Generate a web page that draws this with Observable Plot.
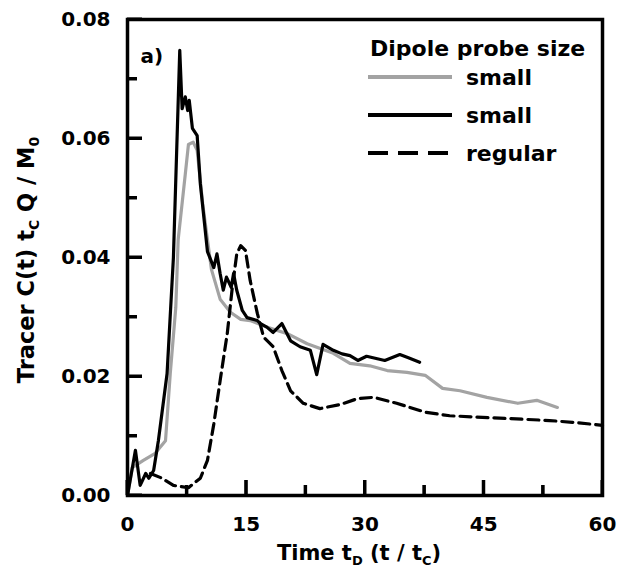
<!DOCTYPE html>
<html><head><meta charset="utf-8">
<script src="https://cdn.jsdelivr.net/npm/d3@7"></script>
<script src="https://cdn.jsdelivr.net/npm/@observablehq/plot@0.6"></script>
<style>
html,body{margin:0;padding:0;background:#fff;}
#chart{width:620px;height:574px;}
</style></head><body><div id="chart"></div>
<script>
// ---- data ----
const graySmallT = [0, 0.6, 2.0, 3.5, 4.8, 5.4, 6.1, 6.4, 7.3, 7.7, 8.3, 8.8, 9.5, 10.1, 10.6, 11.7, 13.0, 14.3, 15.5, 17.6, 20.2, 22.7, 26.0, 28.1, 30.6, 32.8, 35.3, 37.6, 39.8, 42.0, 45.4, 49.3, 51.7, 54.3];
const graySmallV = [0, 0.0047, 0.0059, 0.0071, 0.0092, 0.0205, 0.0316, 0.043, 0.054, 0.059, 0.0594, 0.058, 0.049, 0.043, 0.038, 0.033, 0.0308, 0.0296, 0.0294, 0.0283, 0.0272, 0.0255, 0.0239, 0.0222, 0.0218, 0.021, 0.0207, 0.0202, 0.018, 0.0176, 0.0165, 0.0155, 0.016, 0.0148];

const blackSmallT = [0, 1.0, 1.6, 2.3, 2.7, 3.3, 3.9, 5.0, 5.8, 6.6, 6.9, 7.3, 7.6, 7.8, 8.2, 8.8, 9.2, 10.1, 10.9, 11.3, 11.7, 12.1, 12.5, 13.1, 13.4, 13.8, 14.5, 15.1, 16.4, 16.8, 17.6, 18.4, 19.5, 20.6, 21.8, 23.1, 23.9, 24.7, 26.0, 27.1, 28.1, 29.1, 30.2, 32.5, 34.4, 35.4, 36.9];
const blackSmallV = [0, 0.0076, 0.0017, 0.0037, 0.0029, 0.0042, 0.0092, 0.0205, 0.040, 0.0748, 0.065, 0.067, 0.0647, 0.0664, 0.0617, 0.0605, 0.0524, 0.041, 0.0383, 0.0406, 0.0373, 0.0345, 0.0367, 0.035, 0.0373, 0.0345, 0.0311, 0.0299, 0.0294, 0.0289, 0.0283, 0.0274, 0.0289, 0.026, 0.025, 0.0244, 0.0203, 0.0254, 0.0244, 0.0238, 0.0235, 0.0227, 0.0234, 0.0227, 0.0237, 0.0232, 0.0224];

const regularT = [2.9, 4.2, 5.8, 7.7, 9.2, 10.1, 10.9, 11.7, 12.6, 13.2, 13.8, 14.3, 14.9, 15.5, 16.4, 17.2, 18.4, 19.5, 20.6, 22.2, 24.3, 26.9, 29.1, 31.1, 34.0, 37.6, 40.7, 47.0, 53.3, 56.2, 60];
const regularV = [0.0037, 0.003, 0.0017, 0.0013, 0.0029, 0.0059, 0.012, 0.0193, 0.0272, 0.0345, 0.0406, 0.042, 0.0412, 0.0361, 0.0306, 0.0266, 0.025, 0.021, 0.0176, 0.0155, 0.0146, 0.0153, 0.0163, 0.0165, 0.0155, 0.014, 0.0134, 0.013, 0.0126, 0.0123, 0.0118];

const xMajor = [0, 15, 30, 45, 60];
const xMinor = [7.5, 22.5, 37.5, 52.5];
const yMajor = [0, 0.02, 0.04, 0.06, 0.08];
const yMinor = [0.01, 0.03, 0.05, 0.07];

const seriesNames = ["small", "small", "regular"];
const legendTitle = "Dipole probe size";
const panelLabel = "a)";

// ---- layout ----
const W = 620, H = 574, mL = 127, mR = 18, mT = 19, mB = 79;
const FONT = "'DejaVu Sans', sans-serif";
const GRAY = "#a3a3a3";

const rows = (t, v) => t.map((x, i) => ({t: x, v: v[i]}));

const chart = Plot.plot({
  width: W, height: H,
  marginLeft: mL, marginRight: mR, marginTop: mT, marginBottom: mB,
  style: {fontFamily: FONT, fontWeight: "bold", fontSize: "20px", background: "#fff", color: "#000"},
  x: {domain: [0, 60]},
  y: {domain: [0, 0.08]},
  marks: [
    Plot.ruleY(yMinor, {y: d => d, x1: xMajor[0], x2: xMajor[0], insetRight: -10, strokeWidth: 3}),
    Plot.ruleY(yMajor, {y: d => d, x1: xMajor[0], x2: xMajor[0], insetRight: -15, strokeWidth: 3}),
    Plot.ruleX(xMinor, {x: d => d, y1: yMajor[0], y2: yMajor[0], insetTop: -10, strokeWidth: 3}),
    Plot.ruleX(xMajor, {x: d => d, y1: yMajor[0], y2: yMajor[0], insetTop: -15, strokeWidth: 3}),
    Plot.axisY(yMajor, {tickSize: 0, tickPadding: 17, tickFormat: d => d.toFixed(2), label: null, fontSize: 20}),
    Plot.axisX(xMajor, {tickSize: 0, tickPadding: 21, label: null, fontSize: 20}),
    Plot.line(rows(graySmallT, graySmallV), {x: "t", y: "v", stroke: GRAY, strokeWidth: 3.2}),
    Plot.line(rows(regularT, regularV), {x: "t", y: "v", stroke: "#000", strokeWidth: 3.2, strokeDasharray: "11,6"}),
    Plot.line(rows(blackSmallT, blackSmallV), {x: "t", y: "v", stroke: "#000", strokeWidth: 3.2}),
    Plot.frame({strokeWidth: 3.5}),
    Plot.text([panelLabel], {text: d => d, frameAnchor: "top-left", dx: 13, dy: 29, fontSize: 20, textAnchor: "start"})
  ]
});
document.getElementById("chart").appendChild(chart);

const svg = d3.select(chart);

// inward ticks again on top, placed with the chart's own scales
try {
  const xs = chart.scale("x"), ys = chart.scale("y");
  const x0 = xs.apply(xMajor[0]), y0 = ys.apply(yMajor[0]);
  const tg = svg.append("g").attr("stroke", "black").attr("stroke-width", 3);
  [[yMajor, 15], [yMinor, 10]].forEach(([vals, len]) => vals.forEach(v => {
    const y = ys.apply(v);
    tg.append("line").attr("x1", x0).attr("x2", x0 + len).attr("y1", y).attr("y2", y);
  }));
  [[xMajor, 15], [xMinor, 10]].forEach(([vals, len]) => vals.forEach(v => {
    const x = xs.apply(v);
    tg.append("line").attr("x1", x).attr("x2", x).attr("y1", y0).attr("y2", y0 - len);
  }));
} catch (e) {}

// y title
const yt = svg.append("text")
  .attr("transform", `translate(34,${mT + (H - mT - mB) / 2 + 3}) rotate(-90)`)
  .attr("text-anchor", "middle")
  .attr("font-size", 22.5).attr("font-weight", "bold").attr("font-family", FONT).attr("fill", "#000");
yt.append("tspan").text("Tracer C(t) t");
yt.append("tspan").attr("font-size", 14).attr("dy", 5).text("C");
yt.append("tspan").attr("dy", -5).text(" Q / M");
yt.append("tspan").attr("font-size", 14).attr("dy", 5).text("0");

// x title
const xt = svg.append("text")
  .attr("x", 359).attr("y", 560)
  .attr("text-anchor", "middle")
  .attr("font-size", 21).attr("font-weight", "bold").attr("font-family", FONT).attr("fill", "#000");
xt.append("tspan").text("Time t");
xt.append("tspan").attr("font-size", 13).attr("dy", 5).text("D");
xt.append("tspan").attr("dy", -5).text(" (t / t");
xt.append("tspan").attr("font-size", 13).attr("dy", 5).text("C");
xt.append("tspan").attr("dy", -5).text(")");

// legend
const lg = svg.append("g").attr("font-family", FONT).attr("font-weight", "bold").attr("fill", "#000").attr("text-anchor", "start");
lg.append("text").attr("x", 370).attr("y", 56).attr("font-size", 22).text(legendTitle);
const legendStyles = [
  {stroke: GRAY, dash: null},
  {stroke: "#000", dash: null},
  {stroke: "#000", dash: "20,10"}
];
const legendY = [77, 115, 153];
seriesNames.forEach((name, i) => {
  lg.append("line").attr("x1", 368).attr("x2", 452).attr("y1", legendY[i]).attr("y2", legendY[i])
    .attr("stroke", legendStyles[i].stroke).attr("stroke-width", 4)
    .attr("stroke-dasharray", legendStyles[i].dash);
  lg.append("text").attr("x", 466).attr("y", legendY[i] + 8).attr("font-size", 22).text(name);
});
</script>
</body></html>
